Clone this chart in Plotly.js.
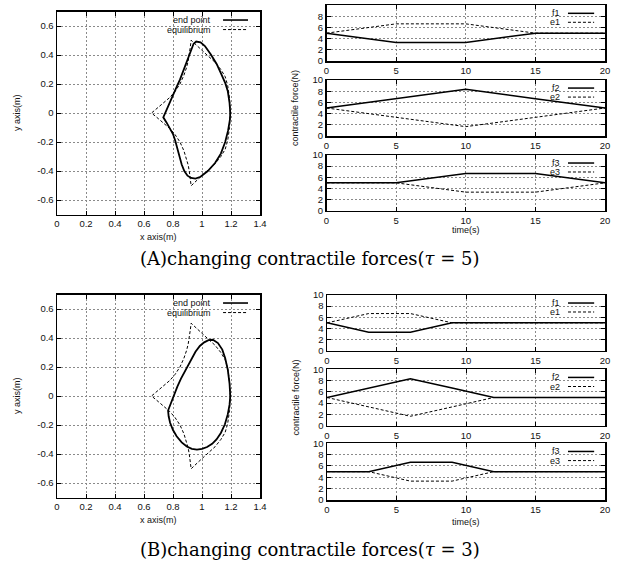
<!DOCTYPE html>
<html><head><meta charset="utf-8">
<script src="https://cdn.plot.ly/plotly-3.0.1.min.js"></script>
<style>html,body{margin:0;padding:0;background:#fff}#chart{width:620px;height:565px}</style>
</head><body><div id="chart"></div>
<script>
// ---------- data: force profiles ----------
const timeA = [0, 5, 10, 15, 20];
const f1A = [5, 3.33, 3.33, 5, 5];
const e1A = [5, 6.67, 6.67, 5, 5];
const f2A = [5, 6.67, 8.33, 6.67, 5];
const e2A = [5, 3.33, 1.67, 3.33, 5];
const f3A = [5, 5, 6.67, 6.67, 5];
const e3A = [5, 5, 3.33, 3.33, 5];

const timeB = [0, 3, 6, 9, 12, 20];
const f1B = [5, 3.33, 3.33, 5, 5, 5];
const e1B = [5, 6.67, 6.67, 5, 5, 5];
const f2B = [5, 6.67, 8.33, 6.67, 5, 5];
const e2B = [5, 3.33, 1.67, 3.33, 5, 5];
const f3B = [5, 5, 6.67, 6.67, 5, 5];
const e3B = [5, 5, 3.33, 3.33, 5, 5];

// ---------- data: trajectories ----------
const eqX = [1.195,1.19,1.177,1.16,1.13,1.09,1.04,0.98,0.925,0.92,0.913,0.905,0.894,0.875,0.848,0.815,0.779,0.745,0.70,0.652,0.70,0.745,0.779,0.815,0.848,0.875,0.894,0.905,0.913,0.92,0.925,0.98,1.04,1.09,1.13,1.16,1.177,1.19,1.195];
const eqY = [0,0.1,0.19,0.25,0.3,0.35,0.395,0.45,0.502,0.46,0.407,0.36,0.315,0.26,0.2,0.15,0.108,0.078,0.04,0,-0.04,-0.078,-0.108,-0.15,-0.2,-0.26,-0.315,-0.36,-0.407,-0.46,-0.502,-0.45,-0.395,-0.35,-0.3,-0.25,-0.19,-0.1,0];

const endAX = [1.195,1.19,1.178,1.159,1.13,1.10,1.06,1.02,0.99,0.96,0.942,0.928,0.912,0.894,0.872,0.848,0.825,0.802,0.785,0.768,0.748,0.733,0.755,0.78,0.80,0.815,0.83,0.845,0.86,0.878,0.90,0.925,0.955,0.99,1.04,1.09,1.13,1.16,1.18,1.192,1.195];
const endAY = [0,0.07,0.15,0.21,0.275,0.34,0.405,0.462,0.487,0.493,0.478,0.44,0.39,0.34,0.285,0.23,0.18,0.13,0.09,0.05,0.01,-0.03,-0.065,-0.105,-0.145,-0.19,-0.245,-0.3,-0.355,-0.4,-0.432,-0.448,-0.452,-0.44,-0.4,-0.345,-0.28,-0.2,-0.12,-0.05,0];

const endBX = [1.195,1.19,1.178,1.16,1.14,1.11,1.075,1.045,1.015,0.985,0.955,0.93,0.905,0.88,0.855,0.83,0.81,0.79,0.775,0.766,0.77,0.78,0.80,0.825,0.86,0.895,0.93,0.965,1.0,1.035,1.07,1.10,1.13,1.158,1.178,1.19,1.195];
const endBY = [0,0.085,0.18,0.26,0.32,0.365,0.388,0.385,0.37,0.345,0.305,0.26,0.215,0.17,0.12,0.065,0.015,-0.035,-0.072,-0.1,-0.14,-0.185,-0.235,-0.278,-0.32,-0.348,-0.365,-0.37,-0.365,-0.352,-0.33,-0.3,-0.255,-0.195,-0.125,-0.06,0];

// ---------- tick labels ----------
const xyTickVals = [0,0.2,0.4,0.6,0.8,1,1.2,1.4];
const xyTickText = ['0','0.2','0.4','0.6','0.8','1','1.2','1.4'];
const yyTickVals = [-0.6,-0.4,-0.2,0,0.2,0.4,0.6];
const yyTickText = ['-0.6','-0.4','-0.2','0','0.2','0.4','0.6'];
const tTickVals = [0,5,10,15,20];
const fTickVals = [0,2,4,6,8,10];

// ---------- layout helpers ----------
const W = 620, H = 565;
const px = p => p / W;
const py = p => 1 - p / H;
const SANS = 'Liberation Sans, Arial, sans-serif';

function ax(extra) {
  return Object.assign({
    showline: true, linecolor: '#000', linewidth: 1.5, mirror: 'ticks',
    ticks: 'inside', ticklen: 4, tickcolor: '#000', tickwidth: 1,
    showgrid: true, gridcolor: '#8a8a8a', griddash: '2px,2px', gridwidth: 1,
    zeroline: false, fixedrange: true,
    tickfont: { family: SANS, size: 9.5, color: '#111' }
  }, extra);
}

const layout = {
  width: W, height: H, margin: { l: 0, r: 0, t: 0, b: 0 },
  paper_bgcolor: '#fff', plot_bgcolor: '#fff', showlegend: false, hovermode: false,
  annotations: [], shapes: []
};

function note(o) {
  return Object.assign({ showarrow: false, xanchor: 'center', yanchor: 'middle',
    font: { family: SANS, size: 9, color: '#111' } }, o);
}

// left panels
function leftPanel(n, top, bottom) {
  const xa = n === 1 ? 'xaxis' : 'xaxis' + n, ya = n === 1 ? 'yaxis' : 'yaxis' + n;
  const xr = n === 1 ? 'x' : 'x' + n, yr = n === 1 ? 'y' : 'y' + n;
  layout[xa] = ax({ domain: [px(57), px(260)], range: [0, 1.4], anchor: yr,
    tickvals: xyTickVals, ticktext: xyTickText });
  layout[ya] = ax({ domain: [py(bottom), py(top)], range: [-0.7, 0.7], anchor: xr,
    tickvals: yyTickVals, ticktext: yyTickText });
  layout.annotations.push(
    note({ text: 'x axis(m)', xref: xr + ' domain', x: 0.5, yref: 'paper', y: py(bottom + 22.5) }),
    note({ text: 'y axis(m)', xref: 'paper', x: px(17), yref: yr + ' domain', y: 0.5, textangle: -90 }),
    note({ text: 'end point', xref: xr + ' domain', x: 0.768, xanchor: 'right', yref: yr + ' domain', y: 0.958 }),
    note({ text: 'equilibrium', xref: xr + ' domain', x: 0.768, xanchor: 'right', yref: yr + ' domain', y: 0.911 })
  );
  layout.shapes.push(
    { type: 'line', xref: xr + ' domain', yref: yr + ' domain', x0: 0.818, x1: 0.941, y0: 0.958, y1: 0.958, line: { color: '#000', width: 1.6 } },
    { type: 'line', xref: xr + ' domain', yref: yr + ' domain', x0: 0.818, x1: 0.941, y0: 0.911, y1: 0.911, line: { color: '#000', width: 1, dash: '3px,2px' } }
  );
  return [xr, yr];
}

function rightPanel(n, left, top, bottom, idx) {
  const xr = 'x' + n, yr = 'y' + n;
  layout['xaxis' + n] = ax({ domain: [px(left), px(605)], range: [0, 20], anchor: yr, tickvals: tTickVals });
  layout['yaxis' + n] = ax({ domain: [py(bottom), py(top)], range: [0, 10], anchor: xr, tickvals: fTickVals });
  layout.annotations.push(
    note({ text: 'f' + idx, xref: xr + ' domain', x: 0.846, xanchor: 'right', yref: yr + ' domain', y: 0.856 }),
    note({ text: 'e' + idx, xref: xr + ' domain', x: 0.846, xanchor: 'right', yref: yr + ' domain', y: 0.695 })
  );
  layout.shapes.push(
    { type: 'line', xref: xr + ' domain', yref: yr + ' domain', x0: 0.867, x1: 0.961, y0: 0.856, y1: 0.856, line: { color: '#000', width: 1.5 } },
    { type: 'line', xref: xr + ' domain', yref: yr + ' domain', x0: 0.867, x1: 0.961, y0: 0.695, y1: 0.695, line: { color: '#000', width: 1, dash: '3px,2px' } }
  );
  return [xr, yr];
}

const data = [];
function addTraj(axes, ex, ey) {
  data.push({ x: ex, y: ey, xaxis: axes[0], yaxis: axes[1], type: 'scatter', mode: 'lines', name: 'end point', line: { color: '#000', width: 1.8 } });
  data.push({ x: eqX, y: eqY, xaxis: axes[0], yaxis: axes[1], type: 'scatter', mode: 'lines', name: 'equilibrium', line: { color: '#000', width: 1, dash: '3px,2px' } });
}
function addForce(axes, t, f, e, idx) {
  data.push({ x: t, y: f, xaxis: axes[0], yaxis: axes[1], type: 'scatter', mode: 'lines', name: 'f' + idx, line: { color: '#000', width: 1.5 } });
  data.push({ x: t, y: e, xaxis: axes[0], yaxis: axes[1], type: 'scatter', mode: 'lines', name: 'e' + idx, line: { color: '#000', width: 1, dash: '3px,2px' } });
}

// Panel A
const aL = leftPanel(1, 11.5, 214.5);
addTraj(aL, endAX, endAY);
const aR1 = rightPanel(2, 326.5, 5.3, 61, 1);
const aR2 = rightPanel(3, 326.5, 80, 136, 2);
const aR3 = rightPanel(4, 326.5, 155, 210.7, 3);
addForce(aR1, timeA, f1A, e1A, 1);
addForce(aR2, timeA, f2A, e2A, 2);
addForce(aR3, timeA, f3A, e3A, 3);

// Panel B
const bL = leftPanel(5, 294.5, 497.5);
addTraj(bL, endBX, endBY);
const bR1 = rightPanel(6, 327, 295, 350.7, 1);
const bR2 = rightPanel(7, 327, 369.3, 425.7, 2);
const bR3 = rightPanel(8, 327, 443.3, 500, 3);
addForce(bR1, timeB, f1B, e1B, 1);
addForce(bR2, timeB, f2B, e2B, 2);
addForce(bR3, timeB, f3B, e3B, 3);

const capFont = { family: 'DejaVu Serif, serif', size: 18, color: '#000' };
layout.annotations.push(
  note({ text: 'time(s)', xref: 'x4 domain', x: 0.5, yref: 'paper', y: py(230) }),
  note({ text: 'time(s)', xref: 'x8 domain', x: 0.5, yref: 'paper', y: py(522) }),
  note({ text: 'contractile force(N)', xref: 'paper', x: px(295), yref: 'y3 domain', y: 0.5, textangle: -90 }),
  note({ text: 'contractile force(N)', xref: 'paper', x: px(295), yref: 'y7 domain', y: 0.5, textangle: -90 }),
  note({ text: '(A)changing contractile forces(<i>τ</i> = 5)', xref: 'paper', x: 0.5, yref: 'paper', y: py(258), font: capFont }),
  note({ text: '(B)changing contractile forces(<i>τ</i> = 3)', xref: 'paper', x: 0.5, yref: 'paper', y: py(549), font: capFont })
);

Plotly.newPlot('chart', data, layout, { staticPlot: true, displayModeBar: false });
</script></body></html>
